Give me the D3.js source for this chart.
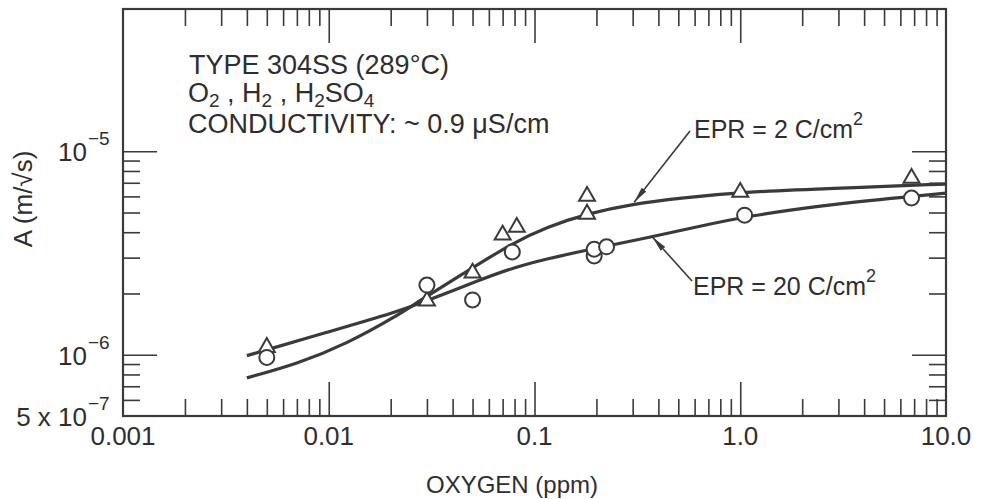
<!DOCTYPE html>
<html>
<head>
<meta charset="utf-8">
<script src="https://cdn.jsdelivr.net/npm/d3@7"></script>
<style>
  body { margin: 0; background: #fff; }
  text { font-family: "Liberation Sans", Arial, sans-serif; fill: #2e2e2e; }
</style>
</head>
<body>
<div id="chart"></div>
<script>
// A vs oxygen, Type 304SS at 289C, two EPR levels

var xTickVals = [0.001, 0.01, 0.1, 1, 10];
var xTickLabels = ["0.001", "0.01", "0.1", "1.0", "10.0"];
var yTickVals = [5e-7, 1e-6, 1e-5];
var yTickBase = ["5 x 10", "10", "10"];
var yTickExp = ["\u22127", "\u22126", "\u22125"];

// triangles: EPR = 2 C/cm2
var triX = [0.005, 0.03, 0.05, 0.07, 0.082, 0.18, 0.18, 1.0, 6.8];
var triY = [1.1e-6, 1.86e-6, 2.55e-6, 3.92e-6, 4.28e-6, 6.08e-6, 4.97e-6, 6.37e-6, 7.46e-6];

// circles: EPR = 20 C/cm2
var cirX = [0.005, 0.03, 0.05, 0.078, 0.195, 0.195, 0.224, 1.05, 6.8];
var cirY = [0.97e-6, 2.2e-6, 1.86e-6, 3.2e-6, 3.06e-6, 3.3e-6, 3.39e-6, 4.85e-6, 5.89e-6];

// fitted curves
var fit2X = [0.004, 0.007, 0.0122, 0.0214, 0.0267, 0.0447, 0.078, 0.114, 0.185, 0.299, 0.506, 1.01, 3.03, 10];
var fit2Y = [7.7e-7, 9.0e-7, 1.13e-6, 1.55e-6, 1.80e-6, 2.49e-6, 3.54e-6, 4.24e-6, 4.97e-6, 5.50e-6, 5.89e-6, 6.30e-6, 6.59e-6, 6.90e-6];
var fit20X = [0.004, 0.0101, 0.0214, 0.0309, 0.0541, 0.0781, 0.114, 0.191, 0.35, 0.611, 1.07, 3.03, 10];
var fit20Y = [9.9e-7, 1.30e-6, 1.62e-6, 1.86e-6, 2.33e-6, 2.67e-6, 2.96e-6, 3.31e-6, 3.75e-6, 4.24e-6, 4.80e-6, 5.56e-6, 6.22e-6];

var W = 981, H = 499;
var mLeft = 123, mRight = 946, mTop = 9, mBottom = 416;
var ink = "#3a3a3a";

var svg = d3.select("#chart").append("svg")
  .attr("width", W)
  .attr("height", H);

var x = d3.scaleLog().domain([0.001, 10]).range([mLeft, mRight]);
var y = d3.scaleLog().domain([5e-7, 5e-5]).range([mBottom, mTop]);

var xMinor = [];
[0.001, 0.01, 0.1, 1].forEach(function(d) {
  for (var k = 2; k <= 9; k++) xMinor.push(d * k);
});
var yMinor = [6e-7, 7e-7, 8e-7, 9e-7];
for (var k = 2; k <= 9; k++) yMinor.push(k * 1e-6);

var majLen = 34, minLen = 17;

function styleAxis(g) {
  g.select(".domain").remove();
  g.selectAll("line").attr("stroke", ink).attr("stroke-width", 1.6);
  g.selectAll("text").remove();
}

// ticks on all four sides, pointing inward
svg.append("g").attr("transform", "translate(0," + mBottom + ")")
  .call(d3.axisBottom(x).tickValues(xTickVals.slice(1, 4)).tickSize(-majLen)).call(styleAxis);
svg.append("g").attr("transform", "translate(0," + mBottom + ")")
  .call(d3.axisBottom(x).tickValues(xMinor).tickSize(-minLen)).call(styleAxis);
svg.append("g").attr("transform", "translate(0," + mTop + ")")
  .call(d3.axisTop(x).tickValues(xTickVals.slice(1, 4)).tickSize(-majLen)).call(styleAxis);
svg.append("g").attr("transform", "translate(0," + mTop + ")")
  .call(d3.axisTop(x).tickValues(xMinor).tickSize(-minLen)).call(styleAxis);

svg.append("g").attr("transform", "translate(" + mLeft + ",0)")
  .call(d3.axisLeft(y).tickValues(yTickVals.slice(1)).tickSize(-majLen)).call(styleAxis);
svg.append("g").attr("transform", "translate(" + mLeft + ",0)")
  .call(d3.axisLeft(y).tickValues(yMinor).tickSize(-minLen)).call(styleAxis);
svg.append("g").attr("transform", "translate(" + mRight + ",0)")
  .call(d3.axisRight(y).tickValues(yTickVals.slice(1)).tickSize(-majLen)).call(styleAxis);
svg.append("g").attr("transform", "translate(" + mRight + ",0)")
  .call(d3.axisRight(y).tickValues(yMinor).tickSize(-minLen)).call(styleAxis);

// frame
svg.append("rect")
  .attr("x", mLeft).attr("y", mTop)
  .attr("width", mRight - mLeft).attr("height", mBottom - mTop)
  .attr("fill", "none").attr("stroke", ink).attr("stroke-width", 2.2);

// x tick labels
svg.selectAll(".xlab").data(xTickVals).enter().append("text")
  .attr("x", function(d) { return x(d); })
  .attr("y", mBottom + 29)
  .attr("text-anchor", "middle")
  .attr("font-size", 26)
  .text(function(d, i) { return xTickLabels[i]; });

// y tick labels with exponent
yTickVals.forEach(function(v, i) {
  svg.append("text")
    .attr("x", mLeft - 36)
    .attr("y", y(v) + 10)
    .attr("text-anchor", "end")
    .attr("font-size", 26)
    .text(yTickBase[i]);
  svg.append("text")
    .attr("x", mLeft - 35)
    .attr("y", y(v) - 6)
    .attr("font-size", 19)
    .text(yTickExp[i]);
});

// axis titles
svg.append("text")
  .attr("x", 512).attr("y", 493)
  .attr("text-anchor", "middle")
  .attr("font-size", 24)
  .text("OXYGEN (ppm)");

svg.append("text")
  .attr("transform", "translate(32,199) rotate(-90)")
  .attr("text-anchor", "middle")
  .attr("font-size", 26)
  .text("A (m/\u221As)");

// fitted curves
var line = d3.line()
  .x(function(d) { return x(d[0]); })
  .y(function(d) { return y(d[1]); })
  .curve(d3.curveBasis);

svg.append("path")
  .datum(d3.zip(fit2X, fit2Y))
  .attr("d", line)
  .attr("fill", "none").attr("stroke", ink).attr("stroke-width", 3.2);
svg.append("path")
  .datum(d3.zip(fit20X, fit20Y))
  .attr("d", line)
  .attr("fill", "none").attr("stroke", ink).attr("stroke-width", 3.2);

// markers
var tri = d3.symbol().type(d3.symbolTriangle).size(110);
svg.selectAll(".tri").data(d3.zip(triX, triY)).enter().append("path")
  .attr("d", tri)
  .attr("transform", function(d) { return "translate(" + x(d[0]) + "," + (y(d[1]) + 1) + ")"; })
  .attr("fill", "#fff").attr("stroke", ink).attr("stroke-width", 2);

svg.selectAll(".cir").data(d3.zip(cirX, cirY)).enter().append("circle")
  .attr("cx", function(d) { return x(d[0]); })
  .attr("cy", function(d) { return y(d[1]); })
  .attr("r", 7.5)
  .attr("fill", "#fff").attr("stroke", ink).attr("stroke-width", 2);

// condition notes
var notes = svg.append("g").attr("font-size", 27);
notes.append("text").attr("x", 189).attr("y", 74).text("TYPE 304SS (289\u00B0C)");
var l2 = notes.append("text").attr("x", 188).attr("y", 102);
var parts = [["O", "2"], [" , H", "2"], [" , H", "2"], ["SO", "4"]];
parts.forEach(function(p, i) {
  l2.append("tspan").attr("dy", i === 0 ? 0 : -5).text(p[0]);
  l2.append("tspan").attr("dy", 5).attr("font-size", 19).text(p[1]);
});
notes.append("text").attr("x", 188).attr("y", 133)
  .text("CONDUCTIVITY: ~ 0.9 \u03BCS/cm");

// curve labels with arrows
svg.append("defs").append("marker")
  .attr("id", "head")
  .attr("viewBox", "0 0 16 6")
  .attr("refX", 16).attr("refY", 3)
  .attr("markerWidth", 16).attr("markerHeight", 6)
  .attr("markerUnits", "userSpaceOnUse")
  .attr("orient", "auto")
  .append("path").attr("d", "M0,0L16,3L0,6Z").attr("fill", ink);

var labels = [
  { txt: "EPR = 2 C/cm", tx: 694, ty: 138, ax: 690, ay: 131, px: 0.305, py: 5.62e-6 },
  { txt: "EPR = 20 C/cm", tx: 693, ty: 295, ax: 692, ay: 281, px: 0.374, py: 3.79e-6 }
];
labels.forEach(function(l) {
  svg.append("line")
    .attr("x1", l.ax).attr("y1", l.ay)
    .attr("x2", x(l.px)).attr("y2", y(l.py))
    .attr("stroke", ink).attr("stroke-width", 1.6)
    .attr("marker-end", "url(#head)");
  var t = svg.append("text").attr("x", l.tx).attr("y", l.ty).attr("font-size", 25);
  t.append("tspan").text(l.txt);
  t.append("tspan").attr("dy", -13).attr("font-size", 18).text("2");
});
</script>
</body>
</html>
